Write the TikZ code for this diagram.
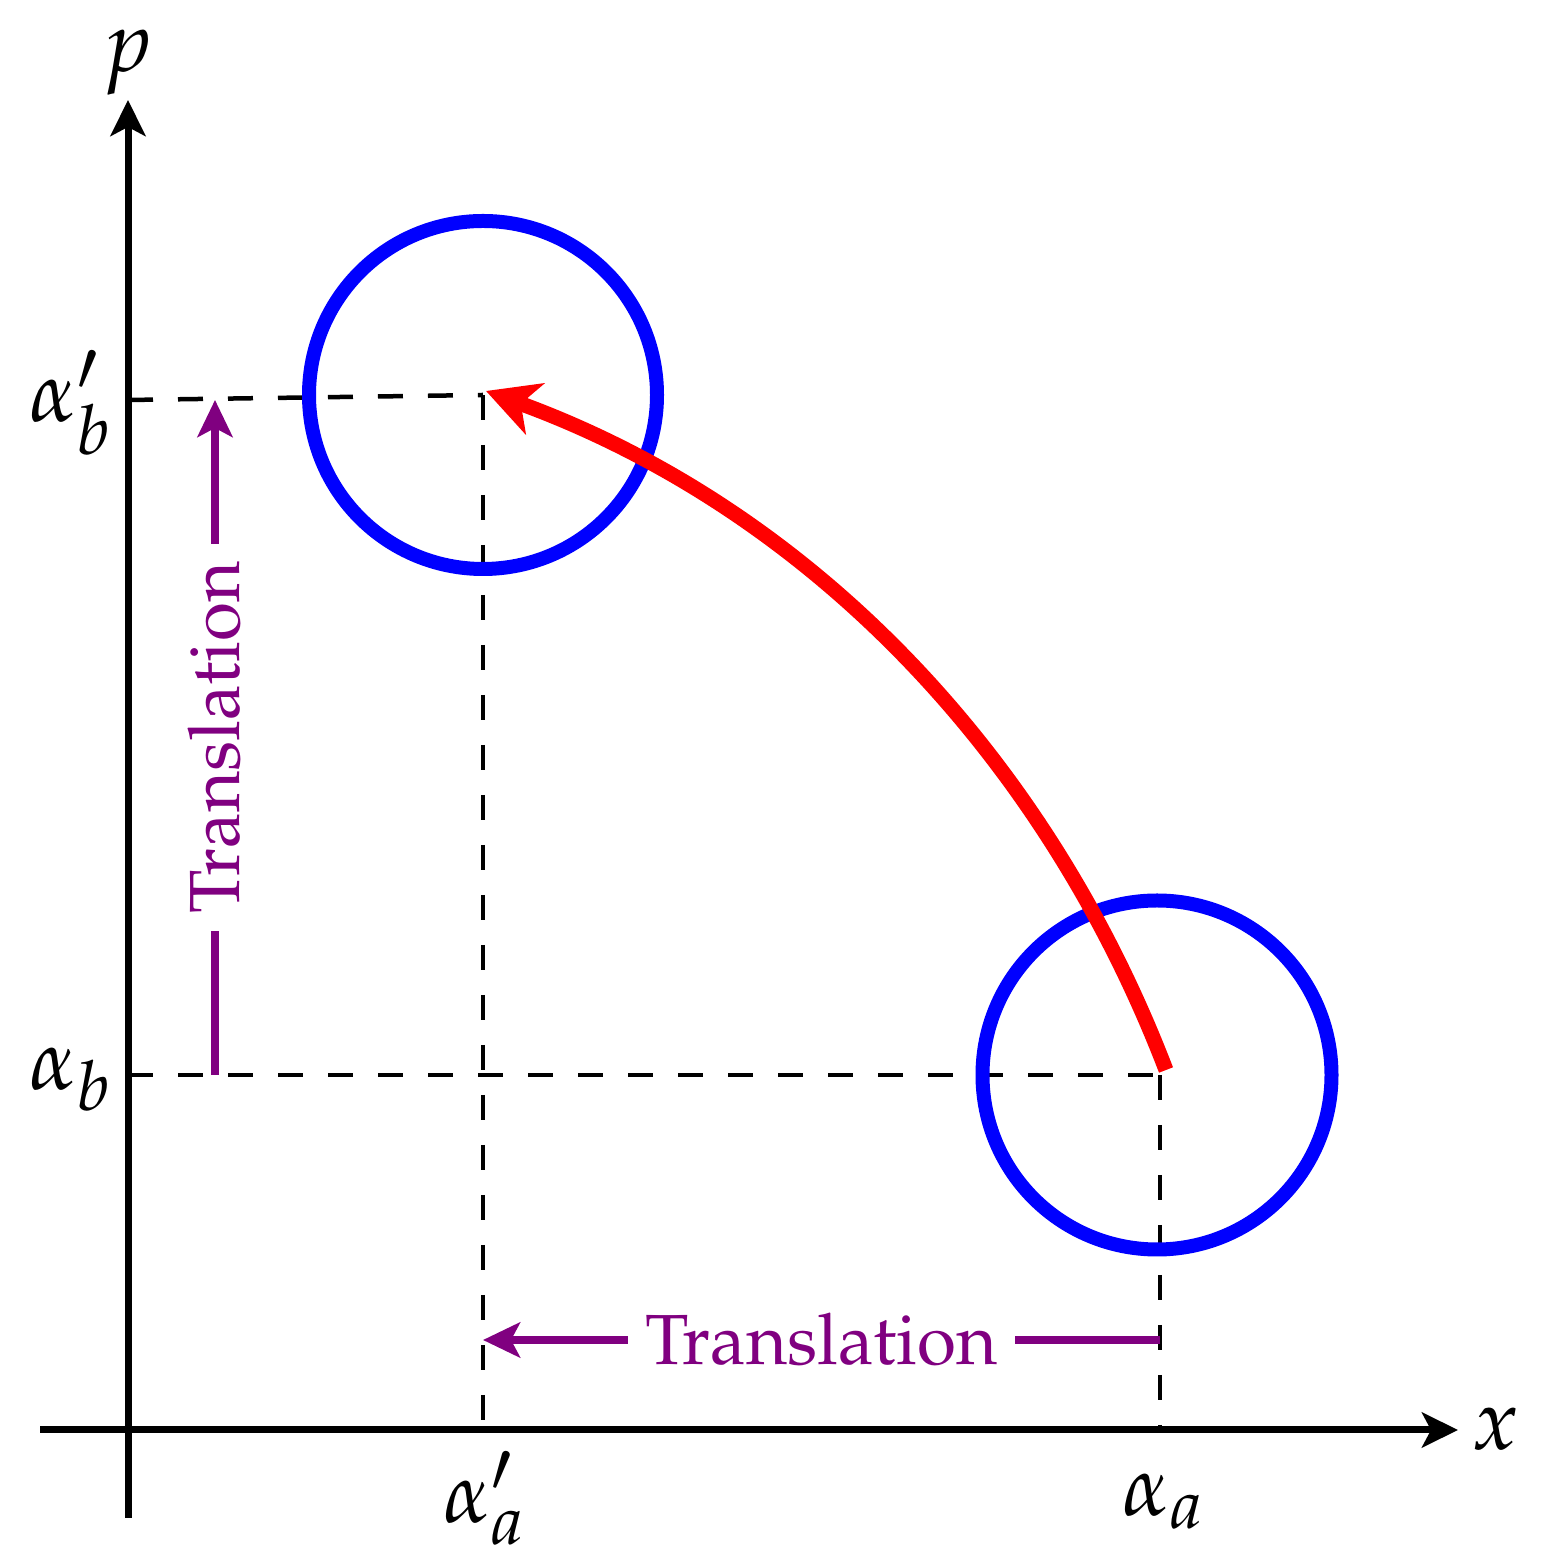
\documentclass[tikz,border=0pt]{standalone}
\usepackage[T1]{fontenc}
\usepackage{mathpazo}
\DeclareMathSizes{86}{86}{69}{60}
\usetikzlibrary{arrows.meta}
\definecolor{tpurple}{RGB}{128,0,128}
\begin{document}
\begin{tikzpicture}[x=1pt,y=1pt,
  axis/.style={line width=7pt,-{Stealth[length=36pt,width=35pt,inset=9pt]}},
  guide/.style={line width=4.5pt,dash pattern=on 25pt off 25pt},
  ring/.style={draw=blue,line width=14pt},
  transl/.style={draw=tpurple,line width=7.5pt,-{Stealth[length=37pt,width=35pt,inset=9pt]}},
  tlabel/.style={fill=white,text=tpurple,inner sep=17pt,font=\fontsize{71}{85}\selectfont},
  mlabel/.style={inner sep=0pt,font=\fontsize{86}{100}\selectfont},
]
\useasboundingbox (0,0) rectangle (1542,1563);
% coordinates
\coordinate (ybot) at (128,45);
\coordinate (ytop) at (128,1463);
\coordinate (xleft) at (40,133);
\coordinate (xright) at (1458,133);
\coordinate (tickbp) at (128,1163);
\coordinate (tickb) at (128,488);
\coordinate (cA) at (483,1168);
\coordinate (cB) at (1157,488);
\coordinate (pB) at (1160,488);
\coordinate (footAp) at (483,133);
\coordinate (footA) at (1160,133);
\coordinate (vs) at (215,488);
\coordinate (ve) at (215,1163);
\coordinate (hs) at (1160,223);
\coordinate (he) at (483,223);
\coordinate (rs) at (1166,493);
\coordinate (rc1) at (1044,811);
\coordinate (rc2) at (807,1055);
\coordinate (re) at (486,1172);
% guides
\draw[guide] (tickbp) -- (cA);
\draw[guide] (cA) -- (footAp);
\draw[guide] (tickb) -- (pB);
\draw[guide] (pB) -- (footA);
% axes
\draw[axis] (ybot) -- (ytop);
\draw[axis] (xleft) -- (xright);
% circles
\draw[ring] (cA) circle[radius=174];
\draw[ring] (cB) circle[radius=174.5];
% rotation arrow
\draw[red,line width=15pt,-{Stealth[length=52pt,width=54pt,inset=15pt]}] (rs) .. controls (rc1) and (rc2) .. (re);
% translations
\draw[transl] (vs) -- node[tlabel,rotate=90] (tv) {Translation} (ve);
\draw[transl] (hs) -- node[tlabel] (th) {Translation} (he);
% labels
\node[mlabel,anchor=base] (lp) at (128,1491) {$p$};
\node[mlabel,anchor=base west] (lx) at (1472,113) {$x$};
\node[mlabel,anchor=base east] (lbp) at (111,1141) {$\alpha_b'$};
\node[mlabel,anchor=base east] (lb) at (111,473) {$\alpha_b$};
\node[mlabel,anchor=base west] (lap) at (443,40) {$\alpha_a'$};
\node[mlabel,anchor=base west] (la) at (1122,47) {$\alpha_a$};
\end{tikzpicture}
\end{document}
